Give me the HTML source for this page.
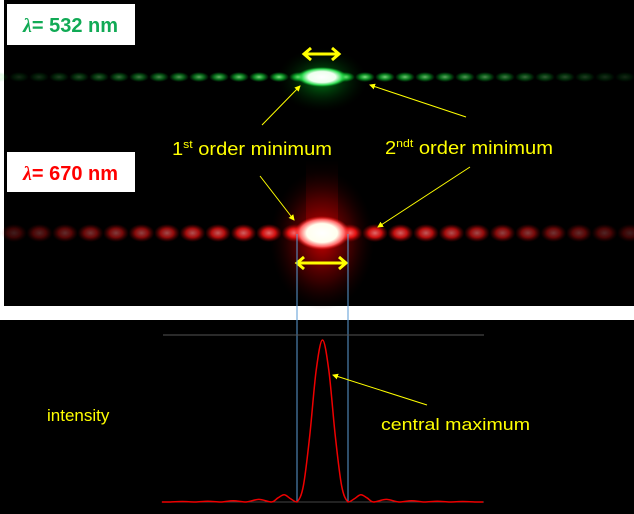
<!DOCTYPE html>
<html><head><meta charset="utf-8"><style>
html,body{margin:0;padding:0;background:#fff;width:634px;height:514px;overflow:hidden}
svg{display:block}
text{font-family:"Liberation Sans",sans-serif}
</style></head><body>
<svg id="s" width="634" height="514" viewBox="0 0 634 514">
<defs>
<radialGradient id="gs"><stop offset="0" stop-color="#9f9" stop-opacity="1"/><stop offset="0.5" stop-color="#1c3" stop-opacity="0.8"/><stop offset="1" stop-color="#0a2" stop-opacity="0"/></radialGradient>
<radialGradient id="gc"><stop offset="0" stop-color="#fff"/><stop offset="0.55" stop-color="#efe"/><stop offset="0.8" stop-color="#3d5"/><stop offset="1" stop-color="#0a2" stop-opacity="0"/></radialGradient>
<radialGradient id="gg"><stop offset="0" stop-color="#0b2" stop-opacity="0.7"/><stop offset="1" stop-color="#020" stop-opacity="0"/></radialGradient>
<radialGradient id="rs"><stop offset="0" stop-color="#f77"/><stop offset="0.5" stop-color="#e11"/><stop offset="1" stop-color="#900" stop-opacity="0"/></radialGradient>
<radialGradient id="rc"><stop offset="0" stop-color="#fff"/><stop offset="0.55" stop-color="#ffe"/><stop offset="0.8" stop-color="#f66"/><stop offset="1" stop-color="#e00" stop-opacity="0"/></radialGradient>
<radialGradient id="rg"><stop offset="0" stop-color="#e00" stop-opacity="0.85"/><stop offset="0.6" stop-color="#900" stop-opacity="0.35"/><stop offset="1" stop-color="#300" stop-opacity="0"/></radialGradient>
<linearGradient id="streak" x1="0" y1="0" x2="0" y2="1"><stop offset="0" stop-color="#500" stop-opacity="0"/><stop offset="1" stop-color="#a00" stop-opacity="0.6"/></linearGradient>
<marker id="ah" markerWidth="6" markerHeight="6" refX="5" refY="3" orient="auto" markerUnits="strokeWidth"><path d="M0,0L6,3L0,6z" fill="#ff0"/></marker>
</defs>
<rect x="4" y="0" width="630" height="306" fill="#000"/>
<rect x="0" y="320" width="634" height="194" fill="#000"/>
<g id="photo"></g>
<rect x="7" y="4" width="128" height="41" fill="#fff"/>
<text x="23" y="32" font-size="20" font-weight="bold" fill="#1a5" textLength="95" lengthAdjust="spacingAndGlyphs"><tspan font-family="Liberation Serif" font-style="italic">λ</tspan>= 532 nm</text>
<rect x="7" y="152" width="128" height="40" fill="#fff"/>
<text x="23" y="180" font-size="20" font-weight="bold" fill="#f00" textLength="95" lengthAdjust="spacingAndGlyphs"><tspan font-family="Liberation Serif" font-style="italic">λ</tspan>= 670 nm</text>
<text x="172" y="155" font-size="18" fill="#ff0" textLength="160" lengthAdjust="spacingAndGlyphs">1<tspan font-size="11" dy="-7">st</tspan><tspan dy="7"> order minimum</tspan></text>
<text x="385" y="154" font-size="18" fill="#ff0" textLength="168" lengthAdjust="spacingAndGlyphs">2<tspan font-size="11" dy="-7">ndt</tspan><tspan dy="7"> order minimum</tspan></text>
<g stroke="#ff0" stroke-width="1">
<line x1="262" y1="125" x2="300" y2="86" marker-end="url(#ah)"/>
<line x1="466" y1="117" x2="370" y2="85" marker-end="url(#ah)"/>
<line x1="260" y1="176" x2="294" y2="220" marker-end="url(#ah)"/>
<line x1="470" y1="167" x2="378" y2="227" marker-end="url(#ah)"/>
</g>
<g stroke="#ff0" stroke-width="3" fill="none">
<line x1="305" y1="54" x2="338" y2="54"/><path d="M311,48L304,54L311,60M332,48L339,54L332,60"/></g>
<g stroke="#ff0" stroke-width="3" fill="none">
<line x1="297" y1="263" x2="346" y2="263"/><path d="M304,257L297,263L304,269M339,257L346,263L339,269"/></g>
<line x1="297" y1="234" x2="297" y2="502" stroke="#5b9bd5" stroke-width="1"/>
<line x1="348" y1="234" x2="348" y2="502" stroke="#5b9bd5" stroke-width="1"/>
<line x1="163" y1="335" x2="484" y2="335" stroke="#555" stroke-width="1"/>
<line x1="163" y1="502" x2="484" y2="502" stroke="#444" stroke-width="1"/>
<path id="curve" fill="none" stroke="#e00" stroke-width="1.5"/>
<line x1="427" y1="405" x2="333" y2="375" stroke="#ff0" stroke-width="1" marker-end="url(#ah)"/>
<text x="47" y="421" font-size="17" fill="#ff0">intensity</text>
<text x="381" y="430" font-size="17" fill="#ff0" textLength="149" lengthAdjust="spacingAndGlyphs">central maximum</text>
</svg>
<script>
const units=[-6,-5.5,-5,-4.5,-4,-3.5,-3,-2.5,-2,-1.75,-1.5,-1.25,-1,-0.75,-0.5,-0.25,0,0.25,0.5,0.75,1,1.25,1.5,1.75,2,2.5,3,3.5,4,4.5,5,5.5,6];
const intensity=[0,0.003,0,0.005,0,0.008,0,0.016,0,0.025,0.045,0.02,0,0.1,0.41,0.81,1,0.81,0.41,0.1,0,0.02,0.045,0.025,0,0.016,0,0.008,0,0.005,0,0.003,0];
const greenOrders=[-18,-17,-16,-15,-14,-13,-12,-11,-10,-9,-8,-7,-6,-5,-4,-3,-2,-1,1,2,3,4,5,6,7,8,9,10,11,12,13,14,15,16,17,18,19];
const redOrders=[-15,-14,-13,-12,-11,-10,-9,-8,-7,-6,-5,-4,-3,-2,-1,1,2,3,4,5,6,7,8,9,10,11,12,13,14,15];
const NS='http://www.w3.org/2000/svg';
const cx=322.5, unitPx=25.5, y0=502, yTop=340;
const xs=u=>cx+u*unitPx, ys=v=>y0-v*(y0-yTop);
let pts=units.map((u,i)=>[xs(u),ys(intensity[i])]);
let d=`M${xs(-6.3)},${y0}L${pts[0][0]},${pts[0][1]}`;
for(let i=0;i<pts.length-1;i++){
 const p0=pts[Math.max(0,i-1)],p1=pts[i],p2=pts[i+1],p3=pts[Math.min(pts.length-1,i+2)];
 const c1=[p1[0]+(p2[0]-p0[0])/6,p1[1]+(p2[1]-p0[1])/6],c2=[p2[0]-(p3[0]-p1[0])/6,p2[1]-(p3[1]-p1[1])/6];
 d+=`C${c1[0]},${Math.min(y0,c1[1])} ${c2[0]},${Math.min(y0,c2[1])} ${p2[0]},${p2[1]}`;
}
d+=`L${xs(6.3)},${y0}`;
document.getElementById('curve').setAttribute('d',d);
const g=document.getElementById('photo');
function el(tag,a,name){const e=document.createElementNS(NS,tag);for(const k in a)e.setAttribute(k,a[k]);


g.appendChild(e);return e;}
el('ellipse',{cx:322,cy:80,rx:45,ry:32,fill:'url(#gg)'},'green-glow');
greenOrders.forEach(n=>{const x=322+n*20+(n>0?3:-3);const f=Math.max(0.15,1-Math.abs(n)/17);
 el('ellipse',{cx:x,cy:77,rx:10,ry:5,fill:'url(#gs)',opacity:f},'green-spot');});
el('ellipse',{cx:322,cy:77,rx:25,ry:10,fill:'url(#gc)'},'green-central-spot');
el('rect',{x:306,y:160,width:32,height:80,fill:'url(#streak)'},'red-vertical-streak');
el('ellipse',{cx:322,cy:240,rx:52,ry:70,fill:'url(#rg)'},'red-glow');
redOrders.forEach(n=>{const x=322+n*25.5+(n>0?2:-2);const f=Math.max(0.2,1-Math.abs(n)/16);
 el('ellipse',{cx:x,cy:233,rx:13,ry:9,fill:'url(#rs)',opacity:f},'red-spot');});
el('ellipse',{cx:322,cy:233,rx:28,ry:17,fill:'url(#rc)'},'red-central-spot');
</script>
</body></html>
